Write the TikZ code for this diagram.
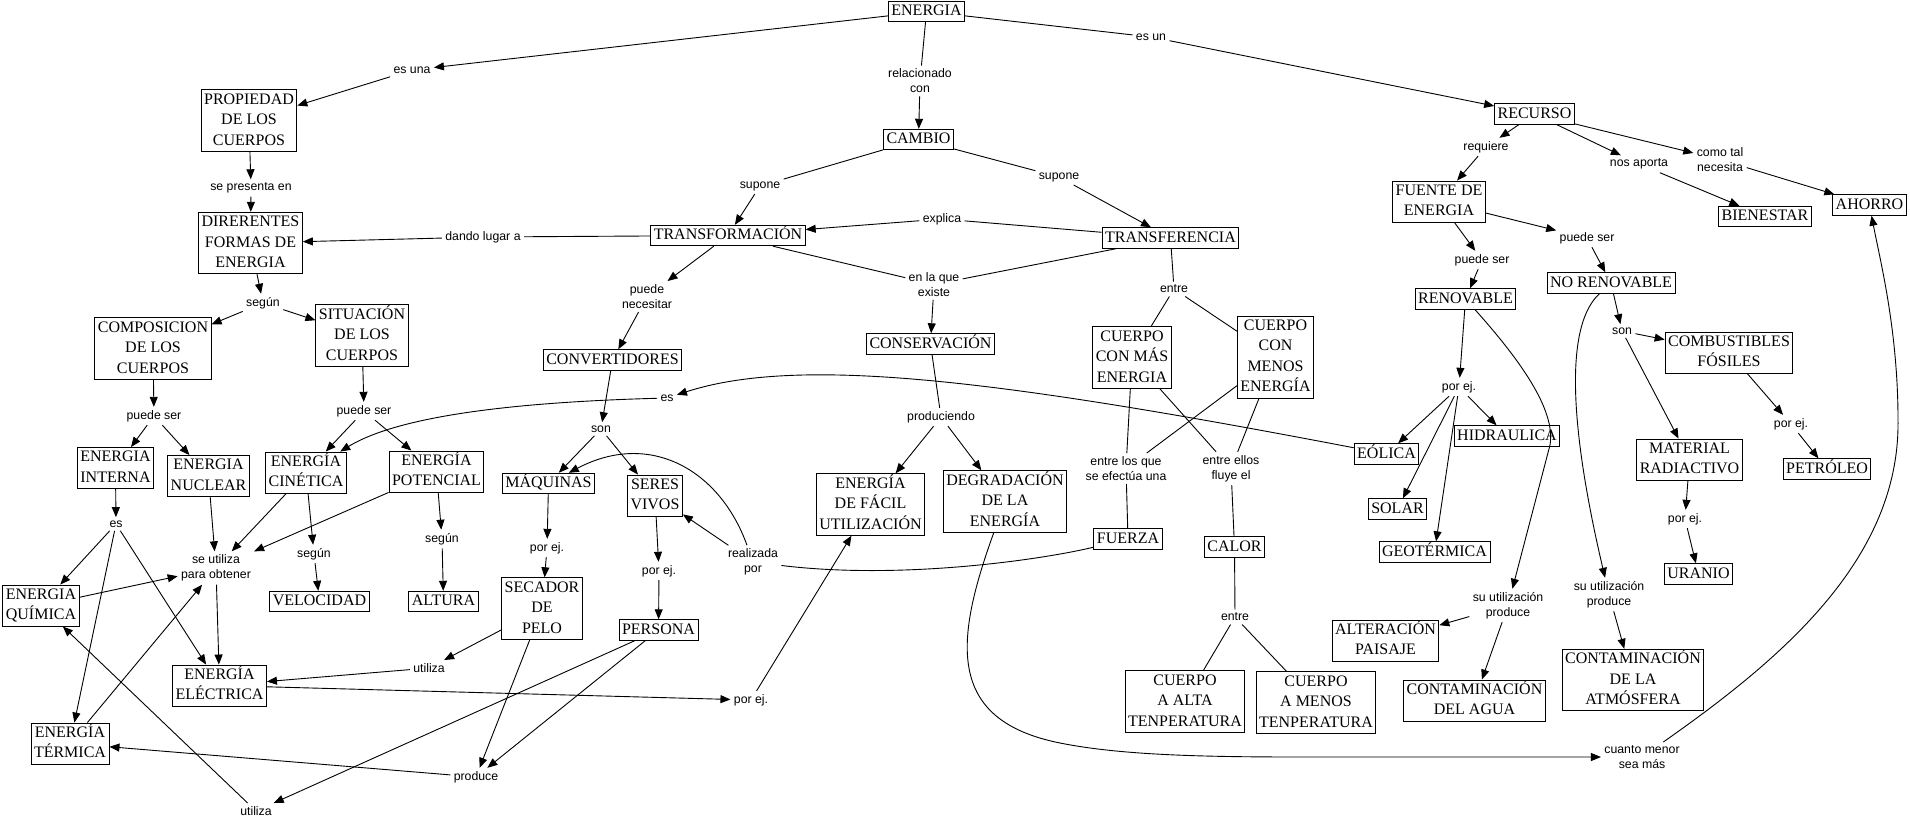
\documentclass[tikz,border=0pt]{standalone}
\usepackage{fontspec}
\setmainfont{Liberation Serif}
\newfontfamily\labfont{Liberation Sans}
\usetikzlibrary{arrows.meta}
\begin{document}
\begin{tikzpicture}[x=1pt,y=-1pt,
  line width=0.9pt,
  >={Triangle[length=10pt,width=8pt]},
  concept/.style={draw, line width=0.9pt, font=\fontsize{16}{20.5}\selectfont, align=center,
    inner xsep=3pt, inner ysep=0pt, execute at begin node=\strut, execute at end node=\strut},
  lab/.style={font=\labfont\fontsize{12.3}{15}\selectfont, align=center, inner sep=3pt}]
\fill[white] (0,0) rectangle (1910,822);
\useasboundingbox (0,0) rectangle (1910,822);

% concepts
\node[concept] (energia) at (926.5,11.5) {ENERGIA};
\node[concept] (propiedad) at (249,120.5) {\strut PROPIEDAD\\DE LOS\\CUERPOS};
\node[concept] (formas) at (250.5,243) {\strut DIRERENTES\\FORMAS DE\\ENERGIA};
\node[concept] (cambio) at (918.5,139.5) {CAMBIO};
\node[concept] (transf) at (728,235.5) {TRANSFORMACIÓN};
\node[concept] (transfer) at (1170.5,238) {TRANSFERENCIA};
\node[concept] (recurso) at (1534.5,114) {RECURSO};
\node[concept] (fuente) at (1439,201.5) {\strut FUENTE DE\\ENERGIA};
\node[concept] (bienestar) at (1765,216.5) {BIENESTAR};
\node[concept] (ahorro) at (1869.5,205) {AHORRO};
\node[concept] (compos) at (153,348.5) {\strut COMPOSICION\\DE LOS\\CUERPOS};
\node[concept] (situac) at (362,335.5) {\strut SITUACIÓN\\DE LOS\\CUERPOS};
\node[concept] (interna) at (115.5,468) {\strut ENERGIA\\INTERNA};
\node[concept] (nuclear) at (208.5,476) {\strut ENERGIA\\NUCLEAR};
\node[concept] (cinetica) at (306,472.5) {\strut ENERGÍA\\CINÉTICA};
\node[concept] (potencial) at (436.5,471.5) {\strut ENERGÍA\\POTENCIAL};
\node[concept] (quimica) at (41,605.5) {\strut ENERGIA\\QUÍMICA};
\node[concept] (electrica) at (219.5,685.5) {\strut ENERGÍA\\ELÉCTRICA};
\node[concept] (termica) at (70,743.5) {\strut ENERGÍA\\TÉRMICA};
\node[concept] (velocidad) at (319.5,601.5) {VELOCIDAD};
\node[concept] (altura) at (443.5,601.5) {ALTURA};
\node[concept] (convert) at (612.5,360) {CONVERTIDORES};
\node[concept] (maquinas) at (548.5,483.5) {MÁQUINAS};
\node[concept] (seres) at (655,495.5) {\strut SERES\\VIVOS};
\node[concept] (secador) at (542,608.5) {\strut SECADOR\\DE\\PELO};
\node[concept] (persona) at (658.5,630) {PERSONA};
\node[concept] (conserv) at (930.5,344) {CONSERVACIÓN};
\node[concept] (facil) at (870.5,504.5) {\strut ENERGÍA\\DE FÁCIL\\UTILIZACIÓN};
\node[concept] (degrad) at (1005,501.5) {\strut DEGRADACIÓN\\DE LA\\ENERGÍA};
\node[concept] (mas) at (1132,357.5) {\strut CUERPO\\CON MÁS\\ENERGIA};
\node[concept] (menos) at (1275.5,357) {\strut CUERPO\\CON\\MENOS\\ENERGÍA};
\node[concept] (fuerza) at (1128,539) {FUERZA};
\node[concept] (calor) at (1234.5,547) {CALOR};
\node[concept] (alta) at (1185,701.5) {\strut CUERPO\\A ALTA\\TENPERATURA};
\node[concept] (baja) at (1316,702.5) {\strut CUERPO\\A MENOS\\TENPERATURA};
\node[concept] (renov) at (1465.5,299) {RENOVABLE};
\node[concept] (norenov) at (1611,283) {NO RENOVABLE};
\node[concept] (eolica) at (1386.5,454) {EÓLICA};
\node[concept] (hidra) at (1507,436) {HIDRAULICA};
\node[concept] (solar) at (1397.5,509) {SOLAR};
\node[concept] (geot) at (1434.5,552) {GEOTÉRMICA};
\node[concept] (combust) at (1729,352.5) {\strut COMBUSTIBLES\\FÓSILES};
\node[concept] (material) at (1689.5,459.5) {\strut MATERIAL\\RADIACTIVO};
\node[concept] (petroleo) at (1827,469) {PETRÓLEO};
\node[concept] (uranio) at (1698.5,574) {URANIO};
\node[concept] (paisaje) at (1385.5,640.5) {\strut ALTERACIÓN\\PAISAJE};
\node[concept] (agua) at (1474.5,700.5) {\strut CONTAMINACIÓN\\DEL AGUA};
\node[concept] (atmos) at (1633,680) {\strut CONTAMINACIÓN\\DE LA\\ATMÓSFERA};

% linking phrases
\node[lab] (esuna) at (412,70) {es una};
\node[lab] (relac) at (920,81) {relacionado\\con};
\node[lab] (esun) at (1151,37) {es un};
\node[lab] (sepres) at (251,188) {se presenta en};
\node[lab] (dando) at (483,237) {dando lugar a};
\node[lab] (suponeL) at (760,186) {supone};
\node[lab] (suponeR) at (1059,177) {supone};
\node[lab] (explica) at (942,219) {explica};
\node[lab] (pnecesitar) at (647,296.5) {puede\\necesitar};
\node[lab] (enlaque) at (934,284.5) {en la que\\existe};
\node[lab] (entre1) at (1174,289) {entre};
\node[lab] (requiere) at (1486,147) {requiere};
\node[lab] (aporta) at (1639,164) {nos aporta};
\node[lab] (comotal) at (1720,159.5) {como tal\\necesita};
\node[lab] (psL) at (1482,260) {puede ser};
\node[lab] (psR) at (1587,238) {puede ser};
\node[lab] (segun1) at (263,303) {según};
\node[lab] (psComp) at (154,416) {puede ser};
\node[lab] (psSit) at (364,411) {puede ser};
\node[lab] (es1) at (116,524) {es};
\node[lab] (seutil) at (216,568) {se utiliza\\para obtener};
\node[lab] (segunC) at (314,554) {según};
\node[lab] (segunP) at (442,539) {según};
\node[lab] (son1) at (601,429) {son};
\node[lab] (es2) at (667,398) {es};
\node[lab] (porejM) at (547,548) {por ej.};
\node[lab] (porejS) at (659,571) {por ej.};
\node[lab] (realiz) at (753,562) {realizada\\por};
\node[lab] (utilizaM) at (429,668) {utiliza};
\node[lab] (produce) at (476,777) {produce};
\node[lab] (utilizaB) at (256,811) {utiliza};
\node[lab] (porejE) at (751,700) {por ej.};
\node[lab] (produc) at (941,417) {produciendo};
\node[lab] (entreque) at (1126,468.5) {entre los que\\se efectúa una};
\node[lab] (entreellos) at (1231,468.5) {entre ellos\\fluye el};
\node[lab] (entre2) at (1235,617) {entre};
\node[lab] (cuanto) at (1642,757) {cuanto menor\\sea más};
\node[lab] (porejR) at (1459,387) {por ej.};
\node[lab] (son2) at (1622,331) {son};
\node[lab] (porejC) at (1791,424) {por ej.};
\node[lab] (porejMat) at (1685,519) {por ej.};
\node[lab] (suR) at (1508,605.5) {su utilización\\produce};
\node[lab] (suN) at (1609,594.5) {su utilización\\produce};

% connectors
\draw[->] (energia) -- (esuna);
\draw[->] (esuna) -- (propiedad);
\draw (energia) -- (relac);
\draw[->] (relac) -- (cambio);
\draw (energia) -- (esun);
\draw[->] (esun) -- (recurso);
\draw[->] (propiedad) -- (sepres);
\draw[->] (sepres) -- (formas);
\draw (transf) -- (dando);
\draw[->] (dando) -- (formas);
\draw (cambio) -- (suponeL);
\draw[->] (suponeL) -- (transf);
\draw (cambio) -- (suponeR);
\draw[->] (suponeR) -- (transfer);
\draw (transfer) -- (explica);
\draw[->] (explica) -- (transf);
\draw[->] (transf) -- (pnecesitar);
\draw[->] (pnecesitar) -- (convert);
\draw (transf) -- (enlaque);
\draw (transfer) -- (enlaque);
\draw[->] (enlaque) -- (conserv);
\draw (transfer) -- (entre1);
\draw (entre1) -- (mas);
\draw (entre1) -- (menos);
\draw (mas) -- (entreque);
\draw (menos) -- (entreque);
\draw (mas) -- (entreellos);
\draw (menos) -- (entreellos);
\draw (entreque) -- (fuerza);
\draw (entreellos) -- (calor);
\draw (calor) -- (entre2);
\draw (entre2) -- (alta);
\draw (entre2) -- (baja);
\draw (fuerza) .. controls (1040,560) and (900,580) .. (realiz);
\draw[->] (realiz) -- (seres);
\draw[->] (realiz) .. controls (720,470) and (650,430) .. (maquinas);
\draw[->] (convert) -- (son1);
\draw[->] (son1) -- (maquinas);
\draw[->] (son1) -- (seres);
\draw[->] (maquinas) -- (porejM);
\draw[->] (porejM) -- (secador);
\draw[->] (seres) -- (porejS);
\draw[->] (porejS) -- (persona);
\draw[->] (secador) -- (utilizaM);
\draw[->] (utilizaM) -- (electrica);
\draw[->] (secador) -- (produce);
\draw[->] (persona) -- (produce);
\draw[->] (persona) -- (utilizaB);
\draw[->] (utilizaB) -- (quimica);
\draw[->] (produce) -- (termica);
\draw[->] (electrica) -- (porejE);
\draw[->] (porejE) -- (facil);
\draw (conserv) -- (produc);
\draw[->] (produc) -- (facil);
\draw[->] (produc) -- (degrad);
\draw[->] (degrad) .. controls (955,640) and (945,720) .. (1060,743)
   .. controls (1120,755) and (1200,757) .. (1300,757) -- (cuanto);
\draw[->] (cuanto) .. controls (1780,660) and (1900,560) .. (1898,420)
   .. controls (1898,330) and (1880,260) .. (ahorro);
\draw[->] (recurso) -- (requiere);
\draw[->] (requiere) -- (fuente);
\draw[->] (recurso) -- (aporta);
\draw[->] (aporta) -- (bienestar);
\draw[->] (recurso) -- (comotal);
\draw[->] (comotal) -- (ahorro);
\draw[->] (fuente) -- (psL);
\draw[->] (psL) -- (renov);
\draw[->] (fuente) -- (psR);
\draw[->] (psR) -- (norenov);
\draw[->] (renov) -- (porejR);
\draw[->] (porejR) -- (eolica);
\draw[->] (porejR) -- (solar);
\draw[->] (porejR) -- (geot);
\draw[->] (porejR) -- (hidra);
\draw[->] (renov) .. controls (1520,360) and (1556,410) .. (1550,445) -- (suR);
\draw[->] (suR) -- (paisaje);
\draw[->] (suR) -- (agua);
\draw[->] (norenov) -- (son2);
\draw[->] (son2) -- (combust);
\draw[->] (son2) -- (material);
\draw[->] (combust) -- (porejC);
\draw[->] (porejC) -- (petroleo);
\draw[->] (material) -- (porejMat);
\draw[->] (porejMat) -- (uranio);
\draw[->] (norenov) .. controls (1560,330) and (1575,450) .. (suN);
\draw[->] (suN) -- (atmos);
\draw[->] (eolica) .. controls (1000,380) and (800,355) .. (es2);
\draw[->] (es2) .. controls (520,402) and (400,415) .. (cinetica);
\draw[->] (formas) -- (segun1);
\draw[->] (segun1) -- (compos);
\draw[->] (segun1) -- (situac);
\draw[->] (compos) -- (psComp);
\draw[->] (psComp) -- (interna);
\draw[->] (psComp) -- (nuclear);
\draw[->] (situac) -- (psSit);
\draw[->] (psSit) -- (cinetica);
\draw[->] (psSit) -- (potencial);
\draw[->] (interna) -- (es1);
\draw[->] (es1) -- (quimica);
\draw[->] (es1) -- (termica);
\draw[->] (es1) -- (electrica);
\draw[->] (quimica) -- (seutil);
\draw[->] (termica) -- (seutil);
\draw[->] (nuclear) -- (seutil);
\draw[->] (cinetica) -- (seutil);
\draw[->] (potencial) -- (seutil);
\draw[->] (seutil) -- (electrica);
\draw[->] (cinetica) -- (segunC);
\draw[->] (segunC) -- (velocidad);
\draw[->] (potencial) -- (segunP);
\draw[->] (segunP) -- (altura);
\end{tikzpicture}
\end{document}
